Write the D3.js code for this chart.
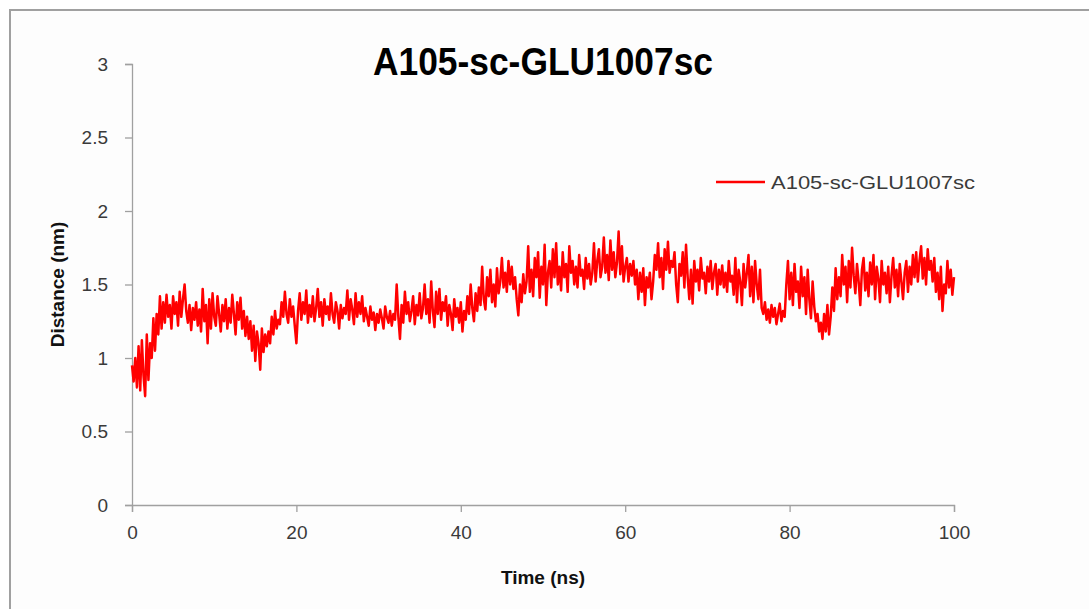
<!DOCTYPE html>
<html>
<head>
<meta charset="utf-8">
<script src="https://cdn.jsdelivr.net/npm/d3@7"></script>
<style>
  body { margin: 0; background: #fff; }
  text { font-family: "Liberation Sans", Arial, sans-serif; }
</style>
</head>
<body>
<script>
let width = 1089;
let height = 609;

let timeStep = 0.2;
let distance = [
    0.95, 0.84, 1.00, 0.80, 1.08, 0.78, 1.12, 0.88, 0.74, 1.16,
    0.85, 1.10, 1.00, 1.27, 1.05, 1.30, 1.16, 1.42, 1.20, 1.38,
    1.24, 1.43, 1.28, 1.36, 1.20, 1.42, 1.30, 1.38, 1.22, 1.45,
    1.28, 1.40, 1.50, 1.32, 1.24, 1.36, 1.19, 1.34, 1.26, 1.38,
    1.22, 1.33, 1.18, 1.47, 1.25, 1.36, 1.10, 1.40, 1.20, 1.44,
    1.28, 1.22, 1.42, 1.30, 1.18, 1.36, 1.25, 1.40, 1.20, 1.34,
    1.24, 1.43, 1.30, 1.16, 1.38, 1.26, 1.41, 1.20, 1.32, 1.15,
    1.28, 1.13, 1.25, 1.05, 1.22, 0.98, 1.18, 1.10, 0.92, 1.20,
    1.04, 1.16, 1.08, 1.18, 1.10, 1.28, 1.16, 1.32, 1.20, 1.26,
    1.23, 1.38, 1.28, 1.45, 1.30, 1.24, 1.40, 1.28, 1.35, 1.22,
    1.10, 1.32, 1.44, 1.26, 1.38, 1.30, 1.46, 1.24, 1.36, 1.28,
    1.42, 1.25, 1.34, 1.47, 1.28, 1.38, 1.22, 1.40, 1.30, 1.35,
    1.26, 1.44, 1.30, 1.24, 1.38, 1.32, 1.20, 1.36, 1.27, 1.34,
    1.30, 1.46, 1.26, 1.40, 1.33, 1.23, 1.44, 1.28, 1.38, 1.30,
    1.42, 1.25, 1.34, 1.28, 1.22, 1.35, 1.26, 1.31, 1.19, 1.30,
    1.24, 1.33, 1.27, 1.20, 1.35, 1.28, 1.24, 1.32, 1.22, 1.30,
    1.26, 1.50, 1.28, 1.13, 1.36, 1.24, 1.45, 1.30, 1.38, 1.25,
    1.32, 1.42, 1.23, 1.36, 1.29, 1.44, 1.27, 1.34, 1.50, 1.30,
    1.40, 1.24, 1.52, 1.32, 1.21, 1.45, 1.30, 1.47, 1.26, 1.38,
    1.32, 1.42, 1.22, 1.36, 1.30, 1.19, 1.40, 1.28, 1.34, 1.24,
    1.38, 1.18, 1.32, 1.26, 1.42, 1.30, 1.50, 1.34, 1.25, 1.44,
    1.32, 1.48, 1.36, 1.62, 1.40, 1.33, 1.55, 1.42, 1.60, 1.38,
    1.50, 1.35, 1.61, 1.44, 1.52, 1.68, 1.48, 1.58, 1.45, 1.66,
    1.50, 1.62, 1.47, 1.55, 1.40, 1.29, 1.50, 1.38, 1.57, 1.44,
    1.52, 1.76, 1.45, 1.60, 1.42, 1.68, 1.55, 1.72, 1.41, 1.62,
    1.50, 1.77, 1.36, 1.58, 1.66, 1.48, 1.74, 1.55, 1.78, 1.50,
    1.62, 1.46, 1.72, 1.55, 1.64, 1.45, 1.76, 1.58, 1.66, 1.50,
    1.62, 1.48, 1.70, 1.56, 1.60, 1.47, 1.68, 1.54, 1.64, 1.50,
    1.58, 1.78, 1.52, 1.66, 1.74, 1.55, 1.62, 1.82, 1.58, 1.70,
    1.53, 1.80, 1.60, 1.72, 1.55, 1.65, 1.86, 1.57, 1.76, 1.52,
    1.62, 1.68, 1.52, 1.64, 1.56, 1.66, 1.50, 1.60, 1.40, 1.58,
    1.45, 1.61, 1.36, 1.55, 1.48, 1.58, 1.40, 1.52, 1.70, 1.60,
    1.78, 1.55, 1.68, 1.47, 1.74, 1.60, 1.79, 1.58, 1.66, 1.62,
    1.72, 1.50, 1.38, 1.64, 1.56, 1.72, 1.48, 1.77, 1.55, 1.40,
    1.60, 1.37, 1.66, 1.52, 1.60, 1.46, 1.68, 1.54, 1.58, 1.44,
    1.62, 1.52, 1.66, 1.47, 1.58, 1.64, 1.43, 1.60, 1.50, 1.63,
    1.48, 1.58, 1.45, 1.66, 1.52, 1.56, 1.43, 1.68, 1.38, 1.60,
    1.52, 1.36, 1.64, 1.48, 1.58, 1.70, 1.42, 1.62, 1.38, 1.66,
    1.50, 1.40, 1.60, 1.34, 1.30, 1.38, 1.26, 1.33, 1.24, 1.36,
    1.28, 1.34, 1.23, 1.30, 1.37, 1.25, 1.32, 1.28, 1.50, 1.66,
    1.40, 1.58, 1.36, 1.64, 1.45, 1.52, 1.34, 1.62, 1.42, 1.55,
    1.30, 1.60, 1.40, 1.27, 1.52, 1.35, 1.25, 1.30, 1.18, 1.24,
    1.13, 1.30, 1.18, 1.36, 1.16, 1.28, 1.48, 1.32, 1.61, 1.40,
    1.55, 1.42, 1.70, 1.50, 1.62, 1.38, 1.66, 1.48, 1.75, 1.56,
    1.44, 1.64, 1.52, 1.36, 1.60, 1.68, 1.46, 1.58, 1.42, 1.65,
    1.50, 1.70, 1.40, 1.62, 1.54, 1.38, 1.66, 1.50, 1.58, 1.44,
    1.62, 1.38, 1.56, 1.68, 1.48, 1.60, 1.42, 1.64, 1.52, 1.40,
    1.58, 1.66, 1.45, 1.62, 1.50, 1.70, 1.55, 1.72, 1.52, 1.66,
    1.76, 1.54, 1.68, 1.50, 1.74, 1.60, 1.66, 1.52, 1.68, 1.45,
    1.58, 1.40, 1.62, 1.32, 1.50, 1.44, 1.66, 1.48, 1.60, 1.43,
    1.55
];

let xTicks = [0, 20, 40, 60, 80, 100];
let yTicks = [0, 0.5, 1, 1.5, 2, 2.5, 3];
let seriesName = "A105-sc-GLU1007sc";
let chartTitle = "A105-sc-GLU1007sc";
let xTitle = "Time (ns)";
let yTitle = "Distance (nm)";

let data = distance.map((d, i) => ({t: i * timeStep, v: d}));

let svg = d3.select("body")
            .append("svg")
            .attr("width", width)
            .attr("height", height);

let axisColor = "#a0a0a0";
let textColor = "#3a3a3a";

// outer chart frame (runs off the right and bottom edges)
svg.append("rect")
    .attr("x", 10)
    .attr("y", 10)
    .attr("width", 1200)
    .attr("height", 700)
    .style("fill", "#fdfdfd")
    .style("stroke", "#a0a0a0")
    .style("stroke-width", 2);

let x = d3.scaleLinear().domain([0, 100]).range([132, 954]);
let y = d3.scaleLinear().domain([0, 3]).range([505, 64]);

let xAxis = svg.append("g")
    .attr("transform", `translate(0,${y(0)})`)
    .call(d3.axisBottom(x).tickValues(xTicks).tickSize(7).tickPadding(14).tickFormat(d3.format("d")));

let yAxis = svg.append("g")
    .attr("transform", `translate(${x(0)},0)`)
    .call(d3.axisLeft(y).tickValues(yTicks).tickSize(7).tickPadding(17).tickFormat(d => d));

[xAxis, yAxis].forEach(ax => {
    ax.select(".domain").style("stroke", axisColor).style("stroke-width", 1.3);
    ax.selectAll(".tick line").style("stroke", axisColor).style("stroke-width", 1.3);
    ax.selectAll(".tick text")
        .style("font-family", "'Liberation Sans', Arial, sans-serif")
        .style("font-size", "19px")
        .style("fill", textColor);
});

let line = d3.line()
    .x(d => x(d.t))
    .y(d => y(d.v));

svg.append("path")
    .datum(data)
    .attr("d", line)
    .style("fill", "none")
    .style("stroke", "#ff0000")
    .style("stroke-width", 2.5)
    .style("stroke-linejoin", "round");

svg.append("text")
    .attr("x", 543)
    .attr("y", 75)
    .attr("text-anchor", "middle")
    .attr("textLength", 340)
    .attr("lengthAdjust", "spacingAndGlyphs")
    .style("font-size", "38px")
    .style("font-weight", "bold")
    .style("fill", "#000")
    .text(chartTitle);

svg.append("text")
    .attr("x", 543)
    .attr("y", 584)
    .attr("text-anchor", "middle")
    .style("font-size", "19px")
    .style("font-weight", "bold")
    .style("fill", "#111")
    .text(xTitle);

svg.append("text")
    .attr("transform", `translate(64,${y(1.5)}) rotate(-90)`)
    .attr("text-anchor", "middle")
    .style("font-size", "19px")
    .style("font-weight", "bold")
    .style("fill", "#111")
    .text(yTitle);

// legend
let legend = svg.append("g").attr("transform", "translate(716,182)");
legend.append("line")
    .attr("x1", 0)
    .attr("y1", 0)
    .attr("x2", 49)
    .attr("y2", 0)
    .style("stroke", "#ff0000")
    .style("stroke-width", 2.5);
legend.append("text")
    .attr("x", 55)
    .attr("y", 7)
    .attr("textLength", 204)
    .attr("lengthAdjust", "spacingAndGlyphs")
    .style("font-size", "19px")
    .style("fill", textColor)
    .text(seriesName);
</script>
</body>
</html>
